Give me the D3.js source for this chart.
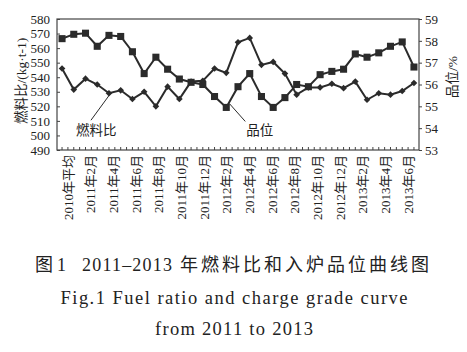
<!DOCTYPE html>
<html>
<head>
<meta charset="utf-8">
<script src="https://cdn.jsdelivr.net/npm/d3@7"></script>
<style>
  body { margin: 0; background: #fff; }
  svg { display: block; }
  text { font-family: "Liberation Serif", "Noto Sans CJK SC", serif; fill: #222; }
</style>
</head>
<body>
<svg id="chart" width="467" height="352"></svg>
<script>
// categories (31 months incl. the 2010 average)
const categories = [
  "2010年平均",
  "2011年1月", "2011年2月", "2011年3月", "2011年4月", "2011年5月", "2011年6月",
  "2011年7月", "2011年8月", "2011年9月", "2011年10月", "2011年11月", "2011年12月",
  "2012年1月", "2012年2月", "2012年3月", "2012年4月", "2012年5月", "2012年6月",
  "2012年7月", "2012年8月", "2012年9月", "2012年10月", "2012年11月", "2012年12月",
  "2013年1月", "2013年2月", "2013年3月", "2013年4月", "2013年5月", "2013年6月"
]
// labelled ticks (every other month)
const tickLabels = [
  "2010年平均", "2011年2月", "2011年4月", "2011年6月", "2011年8月", "2011年10月",
  "2011年12月", "2012年2月", "2012年4月", "2012年6月", "2012年8月", "2012年10月",
  "2012年12月", "2013年2月", "2013年4月", "2013年6月"
]
// fuel ratio, kg/t (diamonds, left axis)
const fuelRatio = [
  546, 531.5, 539, 535, 529, 531, 525, 530, 520, 533.5, 525, 537, 537.5,
  546, 543, 564, 567, 548.5, 550.5, 542.5, 528, 533, 533, 535.5, 532.5,
  537, 524.5, 529, 528, 530.5, 536
]
// charge grade, % (squares, right axis)
const grade = [
  58.1, 58.3, 58.35, 57.75, 58.25, 58.2, 57.5, 56.5, 57.25, 56.7, 56.25, 56.1, 56.0,
  55.45, 54.95, 55.9, 56.5, 55.45, 54.95, 55.4, 56.0, 55.9, 56.45, 56.6, 56.7,
  57.4, 57.25, 57.45, 57.75, 57.95, 56.8
]
const leftTicks = [490, 500, 510, 520, 530, 540, 550, 560, 570, 580]
const rightTicks = [53, 54, 55, 56, 57, 58, 59]

const fontFamily = `"Liberation Serif", "Noto Sans CJK SC", serif`
const margin = { top: 19, right: 48, bottom: 202, left: 57 }
const width = 467 - margin.left - margin.right
const height = 352 - margin.top - margin.bottom

const svg = d3.select("#chart")
const g = svg.append("g").attr("transform", `translate(${margin.left},${margin.top})`)

// scales
const x = d3.scalePoint().domain(categories).range([0, width]).padding(0.43)
const xLabel = d3.scalePoint().domain(tickLabels).range([11, width - 11])
const yL = d3.scaleLinear().domain([490, 580]).range([height, 0])
const yR = d3.scaleLinear().domain([53, 59]).range([height, 0])

const ink = "#2b2b2b"

// frame
g.append("rect")
  .attr("width", width).attr("height", height)
  .attr("fill", "none").attr("stroke", "#444").attr("stroke-width", 1.2)

// left axis, inward ticks
const leftAxis = g.append("g")
  .call(d3.axisLeft(yL).tickValues(leftTicks).tickSize(-3).tickPadding(7).tickFormat(d3.format("d")))
  .attr("font-family", fontFamily)
  .attr("font-size", 13)
leftAxis.select(".domain").remove()

// right axis, outward ticks
const rightAxis = g.append("g")
  .attr("transform", `translate(${width},0)`)
  .call(d3.axisRight(yR).tickValues(rightTicks).tickSize(3).tickPadding(3).tickFormat(d3.format("d")))
  .attr("font-family", fontFamily)
  .attr("font-size", 13)
rightAxis.select(".domain").remove()

g.selectAll(".tick line").attr("stroke", "#444")
g.selectAll(".tick text").attr("fill", "#222")

// bottom ticks: each month plus half steps
const step = x.step()
const tickPos = []
categories.forEach((c, i) => {
  tickPos.push(x(c))
  if (i < categories.length - 1) tickPos.push(x(c) + step / 2)
})
g.append("g").selectAll("line")
  .data(tickPos)
  .enter().append("line")
    .attr("x1", d => d).attr("x2", d => d)
    .attr("y1", height).attr("y2", height - 3)
    .attr("stroke", "#444")

// bottom labels, vertical
g.append("g").selectAll("text")
  .data(tickLabels)
  .enter().append("text")
    .attr("transform", d => `translate(${xLabel(d)},${height + 5}) rotate(-90)`)
    .attr("dy", "0.35em")
    .attr("text-anchor", "end")
    .attr("font-size", "13px")
    .text(d => d)

// axis titles
svg.append("text")
  .attr("transform", `translate(21,${margin.top + 62}) rotate(-90)`)
  .attr("dy", "0.35em")
  .attr("text-anchor", "middle")
  .attr("font-size", "13.5px")
  .text("燃料比/(kg·t-1)")

svg.append("text")
  .attr("transform", `translate(452,${margin.top + 58}) rotate(-90)`)
  .attr("dy", "0.35em")
  .attr("text-anchor", "middle")
  .attr("font-size", "13.5px")
  .text("品位/%")

// lines
const fuelLine = d3.line().x((d, i) => x(categories[i])).y(d => yL(d))
const gradeLine = d3.line().x((d, i) => x(categories[i])).y(d => yR(d))

g.append("path").datum(grade)
  .attr("d", gradeLine).attr("fill", "none").attr("stroke", ink).attr("stroke-width", 2)
g.append("path").datum(fuelRatio)
  .attr("d", fuelLine).attr("fill", "none").attr("stroke", ink).attr("stroke-width", 2)

// markers
const square = d3.symbol(d3.symbolSquare, 50)
const diamond = d3.symbol(d3.symbolSquare, 22)

g.append("g").selectAll("path")
  .data(grade)
  .enter().append("path")
    .attr("d", square)
    .attr("transform", (d, i) => `translate(${x(categories[i])},${yR(d)})`)
    .attr("fill", ink)

g.append("g").selectAll("path")
  .data(fuelRatio)
  .enter().append("path")
    .attr("d", diamond)
    .attr("transform", (d, i) => `translate(${x(categories[i])},${yL(d)}) rotate(45)`)
    .attr("fill", ink)

// annotations
const fx = x(categories[4]), fy = yL(fuelRatio[4])
g.append("line")
  .attr("x1", fx + 1).attr("y1", fy + 1)
  .attr("x2", fx - 18).attr("y2", fy + 27)
  .attr("stroke", ink).attr("stroke-width", 1)
g.append("text")
  .attr("x", fx - 33).attr("y", fy + 42)
  .attr("font-size", "13.5px")
  .text("燃料比")

const gx = x(categories[14]), gy = yR(grade[14])
g.append("line")
  .attr("x1", gx + 3).attr("y1", gy - 4)
  .attr("x2", gx + 19).attr("y2", gy + 14)
  .attr("stroke", ink).attr("stroke-width", 1)
g.append("text")
  .attr("x", gx + 20).attr("y", gy + 28)
  .attr("font-size", "13.5px")
  .text("品位")

// caption, first line in pieces so the CJK part can be spaced out
const cap1 = svg.append("text").attr("y", 271).attr("font-size", "18px")
cap1.append("tspan").attr("x", 35).text("图")
cap1.append("tspan").attr("x", 57).text("1")
cap1.append("tspan").attr("x", 82).attr("letter-spacing", "1.2px").text("2011–2013")
cap1.append("tspan").attr("x", 180).attr("letter-spacing", "3px").text("年燃料比和入炉品位曲线图")

const caption = [
  { text: "Fig.1  Fuel ratio and charge grade curve", y: 304, len: 347 },
  { text: "from 2011 to 2013", y: 335, len: 158 }
]
svg.append("g").selectAll("text")
  .data(caption)
  .enter().append("text")
    .attr("x", 234)
    .attr("y", d => d.y)
    .attr("text-anchor", "middle")
    .attr("font-size", "18.5px")
    .attr("textLength", d => d.len)
    .attr("lengthAdjust", "spacing")
    .text(d => d.text)
</script>
</body>
</html>
